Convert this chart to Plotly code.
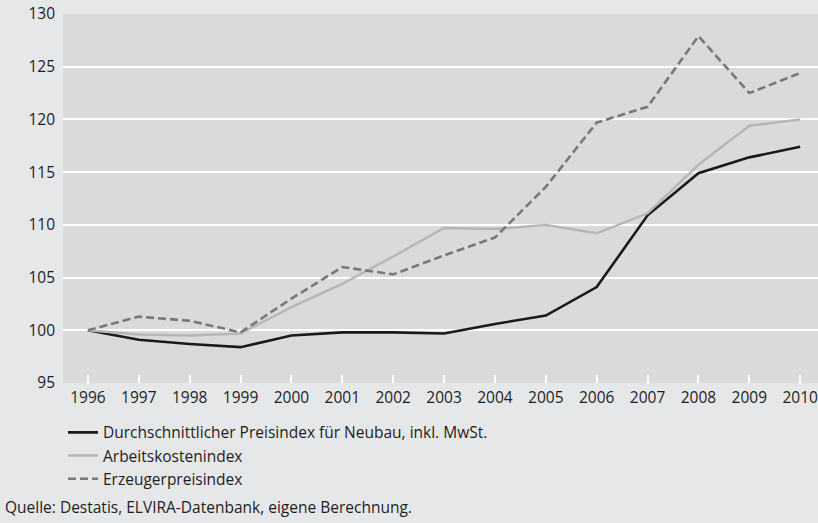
import plotly.graph_objects as go

years = list(range(1996, 2011))
neubau = [100, 99.1, 98.7, 98.4, 99.5, 99.8, 99.8, 99.7, 100.6, 101.4, 104.1, 110.9, 114.9, 116.4, 117.4]
arbeitskosten = [100, 99.6, 99.5, 99.7, 102.2, 104.4, 107.0, 109.7, 109.6, 110.0, 109.2, 111.1, 115.7, 119.4, 120.0]
erzeuger = [100, 101.3, 100.9, 99.8, 103.0, 106.0, 105.3, 107.1, 108.8, 113.6, 119.7, 121.2, 127.9, 122.5, 124.4]

names = ['Durchschnittlicher Preisindex für Neubau, inkl. MwSt.',
         'Arbeitskostenindex',
         'Erzeugerpreisindex']

font = 'Open Sans'

fig = go.Figure()
fig.add_trace(go.Scatter(x=years, y=neubau, name=names[0], mode='lines',
                         line=dict(color='#1a1a1a', width=2.6)))
fig.add_trace(go.Scatter(x=years, y=arbeitskosten, name=names[1], mode='lines',
                         line=dict(color='#b5b6b8', width=2.4)))
fig.add_trace(go.Scatter(x=years, y=erzeuger, name=names[2], mode='lines',
                         line=dict(color='#77787a', width=2.6, dash='8px,4px')))

fig.update_layout(
    width=818, height=523,
    margin=dict(l=63, r=0, t=14, b=140),
    paper_bgcolor='#e6e7e9',
    plot_bgcolor='#d9dadc',
    font=dict(family=font, size=15.5, color='#1e1e1e'),
    showlegend=True,
    legend=dict(x=0.0, y=-0.089, xanchor='left', yanchor='top',
                bgcolor='rgba(0,0,0,0)', tracegroupgap=0, itemwidth=30,
                font=dict(size=15.5), traceorder='normal'),
    xaxis=dict(range=[1995.51, 2010.35], tickmode='array', tickvals=years,
               ticks='inside', ticklen=8, tickwidth=1.5, tickcolor='white',
               showgrid=False, zeroline=False, showline=False,
               ticklabelstandoff=3, ticklabeloverflow='allow'),
    yaxis=dict(range=[95, 130], tickvals=[95, 100, 105, 110, 115, 120, 125, 130],
               showgrid=True, gridcolor='white', gridwidth=2, zeroline=False,
               showline=False, ticks='', ticklabelstandoff=7),
    annotations=[dict(text='Quelle: Destatis, ELVIRA-Datenbank, eigene Berechnung.',
                      xref='paper', yref='paper', x=-0.079, y=-0.335,
                      xanchor='left', yanchor='middle', showarrow=False)]
)

fig.write_html('out.html', config={'displayModeBar': False},
               post_script="document.body.style.margin='0';")
